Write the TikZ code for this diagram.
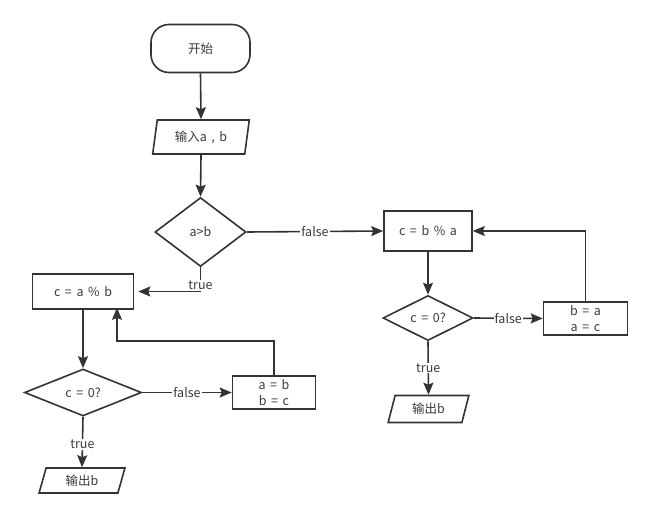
\documentclass[tikz,border=0pt]{standalone}
\usepackage{fontspec}
\setmainfont{Noto Sans CJK SC}
\usetikzlibrary{shapes.geometric,arrows.meta,calc}
\definecolor{ln}{HTML}{333333}
\definecolor{tx}{HTML}{3A3A3A}
\newcommand\myfnt{\fontsize{12.5}{16}\selectfont\spaceskip=4.6pt\relax}
\tikzset{
  every node/.style={font=\myfnt, text=tx},
  box/.style={draw=ln, line width=1.6pt, rectangle, inner sep=0pt},
  term/.style={box, rounded corners=18pt},
  dec/.style={draw=ln, line width=1.6pt, diamond, inner sep=0pt, aspect=1},
  io/.style={draw=ln, line width=1.6pt, trapezium, trapezium stretches=true, inner sep=0pt},
  conn/.style={draw=ln, line width=1.6pt, -{Stealth[length=12pt,width=10pt,inset=2pt]}},
  lbl/.style={fill=white, inner sep=1pt, text=tx},
}
\begin{document}
\begin{tikzpicture}[x=1pt,y=-1pt]
\useasboundingbox[fill=white] (0,0) rectangle (651,517);
% nodes
\node[term, minimum width=99pt, minimum height=48pt] (start) at (200.5,48.5) {开始};
\node[io, trapezium left angle=78, trapezium right angle=102, minimum width=97pt, minimum height=34pt] (in) at (201,137) {输入a , b};
\node[dec, minimum width=91pt, minimum height=69pt] (d1) at (200.5,232) {a>b};
\node[box, minimum width=88pt, minimum height=40pt] (r1) at (428,231) {c = b \% a};
\node[dec, minimum width=90pt, minimum height=38pt] (d2r) at (428,318) {c = 0?};
\node[box, minimum width=84pt, minimum height=33pt, align=center] (s2r) at (585.5,318.5) {b = a\\a = c};
\node[io, trapezium left angle=73.5, trapezium right angle=106.5, minimum width=81pt, minimum height=27pt] (outr) at (428.5,409) {输出b};
\node[box, minimum width=101pt, minimum height=35pt] (l1) at (83,291.5) {c = a \% b};
\node[dec, minimum width=117pt, minimum height=47pt] (d2l) at (83,392.5) {c = 0?};
\node[box, minimum width=83pt, minimum height=33pt, align=center] (s2l) at (274,392.5) {a = b\\b = c};
\node[io, trapezium left angle=74.4, trapezium right angle=105.6, minimum width=86pt, minimum height=25pt] (outl) at (82,480.5) {输出b};
\coordinate (fbl) at (274,341);
% connectors
\draw[conn] (start.south) -- (in.north);
\draw[conn] (in.south) -- (d1.north);
\draw[conn] (d1.east) -- node[lbl, pos=0.5]{false} (r1.west);
\draw[conn] (d1.south) |- node[lbl, pos=0.37]{true} ([xshift=4pt]l1.east);
\draw[conn] (l1.south) -- (d2l.north);
\draw[conn] (d2l.east) -- node[lbl, pos=0.5]{false} (s2l.west);
\draw[conn] (s2l.north) -- (fbl) -| ([xshift=34pt,yshift=2pt]l1.south);
\draw[conn] (d2l.south) -- node[lbl, pos=0.55]{true} (outl.north);
\draw[conn] (r1.south) -- (d2r.north);
\draw[conn] (d2r.east) -- node[lbl, pos=0.5]{false} (s2r.west);
\draw[conn] (s2r.north) |- (r1.east);
\draw[conn] (d2r.south) -- node[lbl, pos=0.5]{true} (outr.north);
\end{tikzpicture}
\end{document}
